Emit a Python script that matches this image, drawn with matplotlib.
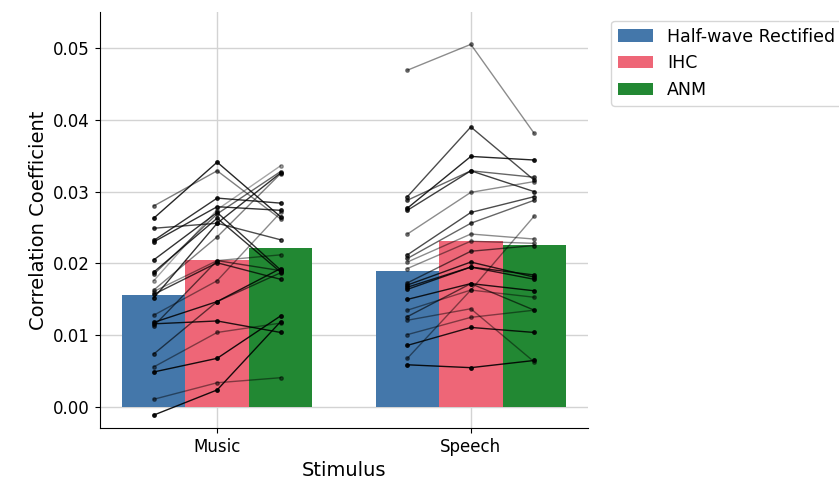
import matplotlib.pyplot as plt
import numpy as np

stimuli = ['Music', 'Speech']
conditions = ['Half-wave Rectified', 'IHC', 'ANM']
colors = ['#4477AA', '#EE6677', '#228833']

# bar heights (group means)
music_means = [0.0156, 0.0205, 0.0221]
speech_means = [0.0189, 0.0231, 0.0226]

# per-subject values: Half-wave Rectified, IHC, ANM
music_hwr = [0.0263, 0.0280, 0.0249, 0.0232, 0.0230, 0.0205, 0.0188, 0.0185, 0.0176, 0.0163, 0.0161,
             0.0157, 0.0152, 0.0128, 0.0118, 0.0116, 0.0113, 0.0074, 0.0056, 0.0049, 0.0011, -0.0011]
music_ihc = [0.0341, 0.0329, 0.0256, 0.0291, 0.0279, 0.0271, 0.0263, 0.0269, 0.0275, 0.0237, 0.0204,
             0.0201, 0.0256, 0.0176, 0.0147, 0.0120, 0.0204, 0.0147, 0.0104, 0.0068, 0.0034, 0.0024]
music_anm = [0.0265, 0.0262, 0.0233, 0.0284, 0.0274, 0.0191, 0.0188, 0.0328, 0.0336, 0.0325, 0.0212,
             0.0178, 0.0326, 0.0271, 0.0193, 0.0104, 0.0190, 0.0187, 0.0117, 0.0127, 0.0041, 0.0119]
music_alpha = [0.85, 0.5, 0.7, 0.8, 0.8, 0.8, 0.8, 0.6, 0.35, 0.5, 0.45,
               0.75, 0.8, 0.45, 0.85, 0.85, 0.6, 0.6, 0.45, 0.9, 0.45, 0.9]

speech_hwr = [0.0469, 0.0293, 0.0277, 0.0274, 0.0288, 0.0241, 0.0212, 0.0207, 0.0202, 0.0193, 0.0173,
              0.0170, 0.0167, 0.0164, 0.0150, 0.0135, 0.0126, 0.0121, 0.0101, 0.0086, 0.0068, 0.0059]
speech_ihc = [0.0505, 0.0390, 0.0349, 0.0329, 0.0329, 0.0299, 0.0271, 0.0256, 0.0241, 0.0231, 0.0217,
              0.0202, 0.0195, 0.0195, 0.0172, 0.0163, 0.0172, 0.0137, 0.0125, 0.0111, 0.0163, 0.0055]
speech_anm = [0.0381, 0.0316, 0.0344, 0.0300, 0.0320, 0.0314, 0.0293, 0.0288, 0.0234, 0.0228, 0.0225,
              0.0181, 0.0178, 0.0184, 0.0162, 0.0153, 0.0135, 0.0063, 0.0135, 0.0104, 0.0266, 0.0065]
speech_alpha = [0.45, 0.7, 0.85, 0.75, 0.6, 0.45, 0.7, 0.6, 0.45, 0.45, 0.6,
                0.8, 0.8, 0.8, 0.85, 0.45, 0.6, 0.45, 0.45, 0.85, 0.45, 0.9]

plt.rcParams['font.size'] = 12

fig = plt.figure(figsize=(8.39, 4.9), dpi=100)
ax = fig.add_axes([0.119, 0.1265, 0.582, 0.849])

width = 0.25
x = np.arange(len(stimuli))
means = np.array([music_means, speech_means])
for k in range(3):
    ax.bar(x + (k - 1) * width, means[:, k], width, color=colors[k], label=conditions[k], zorder=2)

groups = [(music_hwr, music_ihc, music_anm, music_alpha),
          (speech_hwr, speech_ihc, speech_anm, speech_alpha)]
for i, (a, b, c, alphas) in enumerate(groups):
    xs = x[i] + np.array([-width, 0, width])
    for j in range(len(a)):
        ax.plot(xs, [a[j], b[j], c[j]], color='black', marker='o', markersize=2.5,
                linewidth=1, alpha=alphas[j], zorder=3)

ax.set_xticks(x)
ax.set_xticklabels(stimuli)
ax.set_xlim(-0.4625, 1.4625)
ax.set_ylim(-0.0029, 0.0550)
ax.set_yticks(np.arange(0, 0.051, 0.01))
ax.set_yticklabels(['{:.2f}'.format(v) for v in np.arange(0, 0.051, 0.01)])
ax.grid(True, color='#d3d3d3', linewidth=1)
ax.set_axisbelow(True)
ax.spines['top'].set_visible(False)
ax.spines['right'].set_visible(False)
ax.set_xlabel('Stimulus', fontsize=14)
ax.set_ylabel('Correlation Coefficient', fontsize=14)
ax.legend(loc='upper left', bbox_to_anchor=(1.03, 1.0), fontsize=12.5)

fig.savefig('out.png', dpi=100)
